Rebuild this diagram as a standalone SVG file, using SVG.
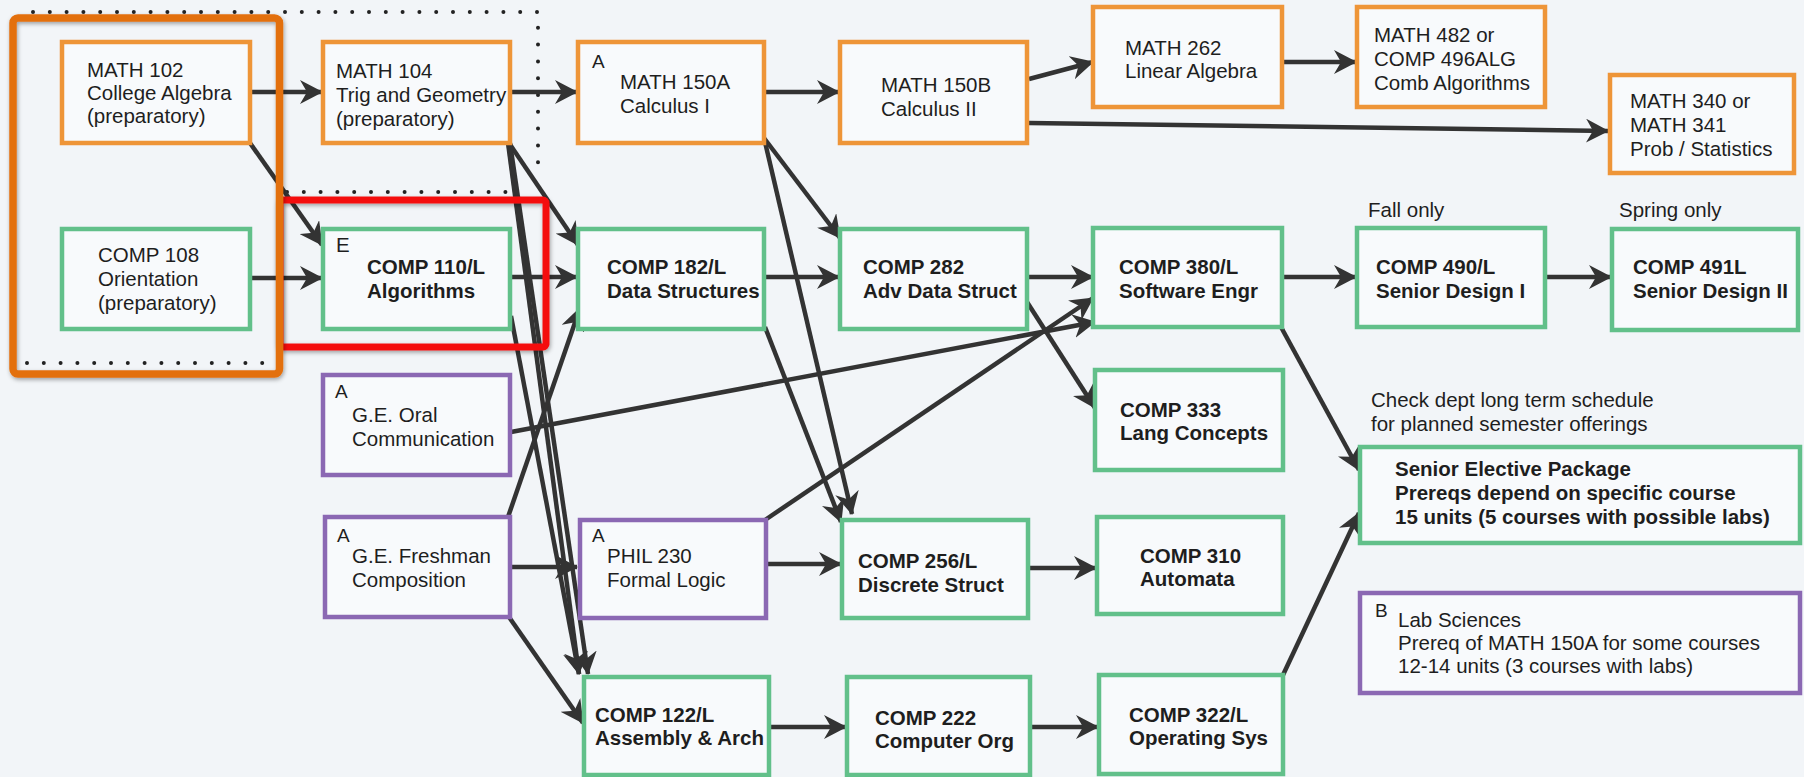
<svg xmlns="http://www.w3.org/2000/svg" width="1804" height="777" viewBox="0 0 1804 777">
<defs>
<style>
.bx{stroke-width:4.5;fill:#f8fafc}
.o{stroke:#ee9538}
.g{stroke:#62c08a}
.p{stroke:#8b68b3}
text{font-family:"Liberation Sans",Arial,Helvetica,sans-serif;font-size:20.5px;fill:#1e1e1e}
.b{font-weight:bold}
.s{font-size:19px}
.c path{fill:none;stroke:#333;stroke-width:4.5;marker-end:url(#ah)}
.dot{fill:none;stroke:#222;stroke-width:4;stroke-linecap:round;stroke-dasharray:0 16.8}
</style>
<marker id="ah" markerUnits="userSpaceOnUse" markerWidth="24" markerHeight="24" viewBox="0 0 24 24" refX="22" refY="12" orient="auto">
<path d="M0,0 L23,12 L0,24 L7,12 Z" fill="#333"/>
</marker>
<filter id="sh" x="-10%" y="-10%" width="120%" height="120%">
<feDropShadow dx="1" dy="2" stdDeviation="2" flood-color="#000" flood-opacity="0.35"/>
</filter>
</defs>
<rect width="1804" height="777" fill="#f2f5f8"/>

<g id="dotted-region">
<path class="dot" d="M33,12 H538 V176"/>
<path class="dot" d="M287,192 H510"/>
<path class="dot" d="M27,363 H265"/>
</g>

<g id="connectors" class="c">
<path d="M250,92 H322"/>
<path d="M510,92 H577"/>
<path d="M764,92 H839"/>
<path d="M1029,79 L1093,62"/>
<path d="M1283,62 H1356"/>
<path d="M1029,123 L1608,131"/>
<path d="M250,278 H322"/>
<path d="M510,277 H577"/>
<path d="M764,277 H839"/>
<path d="M1027,277 H1093"/>
<path d="M1283,277 H1356"/>
<path d="M1545,277 H1611"/>
<path d="M250,143 L322,245"/>
<path d="M509,143 L578,245"/>
<path d="M508,143 L579,674"/>
<path d="M510,143 L588,674"/>
<path d="M511,316 L579,674"/>
<path d="M508,517 L580,308"/>
<path d="M510,567 H577"/>
<path d="M509,617 L583,723"/>
<path d="M511,432 L1095,322"/>
<path d="M765,520 L1093,298"/>
<path d="M764,138 L840,238"/>
<path d="M765,142 L852,514"/>
<path d="M765,327 L841,522"/>
<path d="M1027,302 L1095,408"/>
<path d="M766,564 H841"/>
<path d="M1028,568 H1096"/>
<path d="M769,727 H846"/>
<path d="M1030,727 H1098"/>
<path d="M1281,327 L1359,470"/>
<path d="M1283,675 L1359,513"/>
</g>

<g id="math102"><rect class="bx o" x="62" y="42" width="188" height="101"/>
<text x="87" y="77">MATH 102</text><text x="87" y="100">College Algebra</text><text x="87" y="123">(preparatory)</text></g>
<g id="math104"><rect class="bx o" x="323" y="42" width="187" height="101"/>
<text x="336" y="78">MATH 104</text><text x="336" y="102">Trig and Geometry</text><text x="336" y="126">(preparatory)</text></g>
<g id="math150a"><rect class="bx o" x="578" y="42" width="186" height="101"/>
<text class="s" x="592" y="68">A</text><text x="620" y="89">MATH 150A</text><text x="620" y="113">Calculus I</text></g>
<g id="math150b"><rect class="bx o" x="840" y="42" width="187" height="101"/>
<text x="881" y="92">MATH 150B</text><text x="881" y="116">Calculus II</text></g>
<g id="math262"><rect class="bx o" x="1093" y="7" width="189" height="100"/>
<text x="1125" y="55">MATH 262</text><text x="1125" y="78">Linear Algebra</text></g>
<g id="math482"><rect class="bx o" x="1357" y="7" width="188" height="100"/>
<text x="1374" y="42">MATH 482 or</text><text x="1374" y="66">COMP 496ALG</text><text x="1374" y="90">Comb Algorithms</text></g>
<g id="math340"><rect class="bx o" x="1610" y="75" width="184" height="98"/>
<text x="1630" y="108">MATH 340 or</text><text x="1630" y="132">MATH 341</text><text x="1630" y="156">Prob / Statistics</text></g>

<g id="comp108"><rect class="bx g" x="62" y="229" width="188" height="100"/>
<text x="98" y="262">COMP 108</text><text x="98" y="286">Orientation</text><text x="98" y="310">(preparatory)</text></g>
<g id="comp110"><rect class="bx g" x="323" y="229" width="187" height="100"/>
<text x="336" y="252">E</text><text class="b" x="367" y="274">COMP 110/L</text><text class="b" x="367" y="298">Algorithms</text></g>
<g id="comp182"><rect class="bx g" x="578" y="229" width="186" height="100"/>
<text class="b" x="607" y="274">COMP 182/L</text><text class="b" x="607" y="298">Data Structures</text></g>
<g id="comp282"><rect class="bx g" x="840" y="229" width="187" height="100"/>
<text class="b" x="863" y="274">COMP 282</text><text class="b" x="863" y="298">Adv Data Struct</text></g>
<g id="comp380"><rect class="bx g" x="1093" y="228" width="189" height="99"/>
<text class="b" x="1119" y="274">COMP 380/L</text><text class="b" x="1119" y="298">Software Engr</text></g>
<g id="comp490"><rect class="bx g" x="1357" y="228" width="188" height="99"/>
<text class="b" x="1376" y="274">COMP 490/L</text><text class="b" x="1376" y="298">Senior Design I</text></g>
<g id="comp491"><rect class="bx g" x="1612" y="229" width="186" height="101"/>
<text class="b" x="1633" y="274">COMP 491L</text><text class="b" x="1633" y="298">Senior Design II</text></g>
<g id="labels"><text x="1368" y="217">Fall only</text><text x="1619" y="217">Spring only</text>
<text x="1371" y="407">Check dept long term schedule</text><text x="1371" y="431">for planned semester offerings</text></g>

<g id="georal"><rect class="bx p" x="323" y="375" width="187" height="100"/>
<text class="s" x="335" y="398">A</text><text x="352" y="422">G.E. Oral</text><text x="352" y="446">Communication</text></g>
<g id="comp333"><rect class="bx g" x="1095" y="370" width="188" height="100"/>
<text class="b" x="1120" y="417">COMP 333</text><text class="b" x="1120" y="440">Lang Concepts</text></g>
<g id="senior"><rect class="bx g" x="1360" y="447" width="440" height="96"/>
<text class="b" x="1395" y="476">Senior Elective Package</text><text class="b" x="1395" y="500">Prereqs depend on specific course</text><text class="b" x="1395" y="524">15 units (5 courses with possible labs)</text></g>

<g id="gefresh"><rect class="bx p" x="325" y="517" width="185" height="100"/>
<text class="s" x="337" y="542">A</text><text x="352" y="563">G.E. Freshman</text><text x="352" y="587">Composition</text></g>
<g id="phil230"><rect class="bx p" x="580" y="520" width="186" height="98"/>
<text class="s" x="592" y="542">A</text><text x="607" y="563">PHIL 230</text><text x="607" y="587">Formal Logic</text></g>
<g id="comp256"><rect class="bx g" x="842" y="520" width="186" height="98"/>
<text class="b" x="858" y="568">COMP 256/L</text><text class="b" x="858" y="592">Discrete Struct</text></g>
<g id="comp310"><rect class="bx g" x="1097" y="517" width="186" height="97"/>
<text class="b" x="1140" y="563">COMP 310</text><text class="b" x="1140" y="586">Automata</text></g>
<g id="labsci"><rect class="bx p" x="1360" y="593" width="440" height="100"/>
<text class="s" x="1375" y="617">B</text><text x="1398" y="627">Lab Sciences</text><text x="1398" y="650">Prereq of MATH 150A for some courses</text><text x="1398" y="673">12-14 units (3 courses with labs)</text></g>

<g id="comp122"><rect class="bx g" x="584" y="677" width="185" height="98"/>
<text class="b" x="595" y="722">COMP 122/L</text><text class="b" x="595" y="745">Assembly &amp; Arch</text></g>
<g id="comp222"><rect class="bx g" x="847" y="677" width="183" height="98"/>
<text class="b" x="875" y="725">COMP 222</text><text class="b" x="875" y="748">Computer Org</text></g>
<g id="comp322"><rect class="bx g" x="1099" y="675" width="184" height="99"/>
<text class="b" x="1129" y="722">COMP 322/L</text><text class="b" x="1129" y="745">Operating Sys</text></g>

<g id="highlights">
<rect x="280" y="200" width="266" height="147" rx="3" fill="none" stroke="#f40f0f" stroke-width="7" filter="url(#sh)"/>
<rect x="13" y="18" width="266.5" height="356" rx="5" fill="none" stroke="#e3700f" stroke-width="7.5" filter="url(#sh)"/>
</g>
</svg>
